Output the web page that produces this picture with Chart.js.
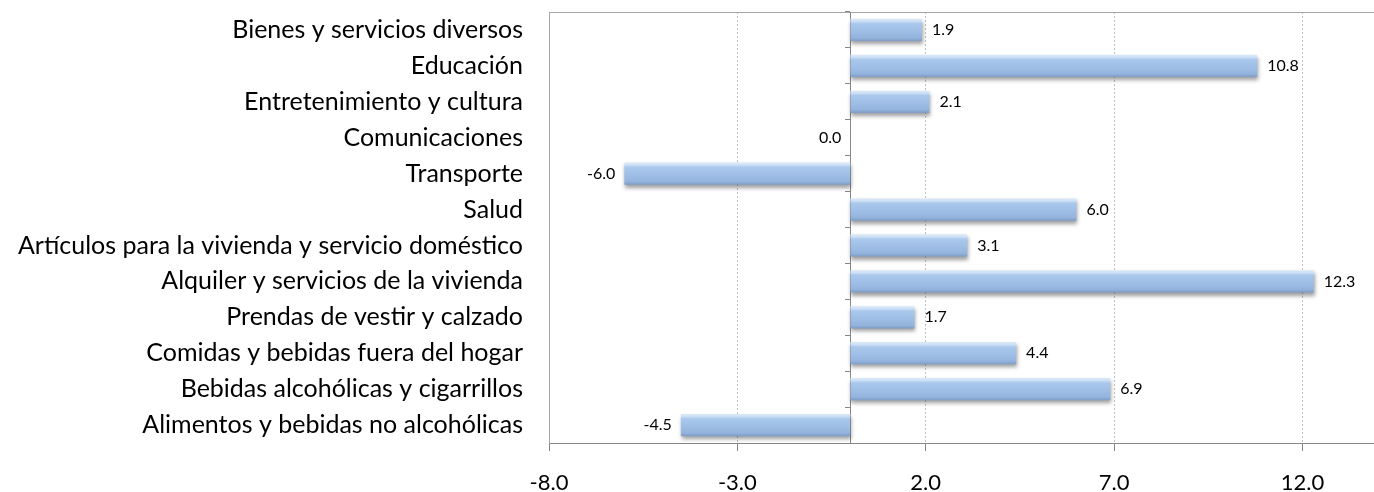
<!DOCTYPE html>
<html>
<head>
<meta charset="utf-8">
<script src="https://cdn.jsdelivr.net/npm/chart.js@4/dist/chart.umd.min.js"></script>
<style>
html,body{margin:0;padding:0;background:#fff;}
#wrap{width:1374px;height:492px;position:relative;}
</style>
</head>
<body>
<div id="wrap"><canvas id="c" width="1374" height="492"></canvas></div>
<script>
const categories = [
  "Bienes y servicios diversos",
  "Educación",
  "Entretenimiento y cultura",
  "Comunicaciones",
  "Transporte",
  "Salud",
  "Artículos para la vivienda y servicio doméstico",
  "Alquiler y servicios de la vivienda",
  "Prendas de vestir y calzado",
  "Comidas y bebidas fuera del hogar",
  "Bebidas alcohólicas y cigarrillos",
  "Alimentos y bebidas no alcohólicas"
];
const values = [1.9, 10.8, 2.1, 0.0, -6.0, 6.0, 3.1, 12.3, 1.7, 4.4, 6.9, -4.5];
const xTickValues = [-8, -3, 2, 7, 12];
const xMin = -8;
const xMax = 13.9;

const FONT = "Lato, 'Open Sans', sans-serif";
const BAR_PCT = 0.62;

function barGradient(ctx) {
  const chart = ctx.chart;
  const ys = chart.scales.y;
  if (!ys || !isFinite(ys.height) || ys.height <= 0) return '#9dbde5';
  const center = ys.getPixelForValue(ctx.dataIndex);
  const thick = (ys.height / chart.data.labels.length) * BAR_PCT;
  const top = center - thick / 2, bot = center + thick / 2;
  if (!isFinite(top) || !isFinite(bot)) return '#9dbde5';
  const g = chart.ctx.createLinearGradient(0, top, 0, bot);
  g.addColorStop(0, '#dbe9f8');
  g.addColorStop(0.1, '#cfe2f6');
  g.addColorStop(0.22, '#aac8ec');
  g.addColorStop(0.6, '#9dbde5');
  g.addColorStop(0.86, '#93b3dd');
  g.addColorStop(1, '#7c9cc6');
  return g;
}

const shadowPlugin = {
  id: 'barShadow',
  beforeDatasetsDraw(chart) {
    const c = chart.ctx;
    c.save();
    c.shadowColor = 'rgba(0,0,0,0.38)';
    c.shadowBlur = 4;
    c.shadowOffsetX = 1;
    c.shadowOffsetY = 3;
  },
  afterDatasetsDraw(chart) {
    chart.ctx.restore();
  }
};

const valueLabelPlugin = {
  id: 'valueLabels',
  afterDatasetsDraw(chart) {
    const c = chart.ctx;
    const meta = chart.getDatasetMeta(0);
    const data = chart.data.datasets[0].data;
    c.save();
    c.font = "16px " + FONT;
    c.fillStyle = '#000';
    c.textBaseline = 'middle';
    meta.data.forEach((bar, i) => {
      const v = data[i];
      const txt = v.toFixed(1);
      if (v > 0) {
        c.textAlign = 'left';
        c.fillText(txt, bar.x + 10, bar.y);
      } else {
        c.textAlign = 'right';
        c.fillText(txt, bar.x - 9, bar.y);
      }
    });
    c.restore();
  }
};

new Chart(document.getElementById('c'), {
  type: 'bar',
  data: {
    labels: categories,
    datasets: [{
      data: values,
      backgroundColor: barGradient,
      borderWidth: 0,
      barPercentage: BAR_PCT,
      categoryPercentage: 1.0
    }]
  },
  options: {
    indexAxis: 'y',
    responsive: false,
    animation: false,
    layout: { padding: 0 },
    plugins: { legend: { display: false }, tooltip: { enabled: false } },
    scales: {
      x: {
        type: 'linear',
        position: 'bottom',
        min: xMin,
        max: xMax,
        afterBuildTicks(scale) { scale.ticks = xTickValues.map(v => ({ value: v })); },
        afterFit(scale) { scale.height = 49; scale.paddingLeft = 0; scale.paddingRight = 0; },
        ticks: {
          color: '#000',
          font: { family: FONT, size: 22 },
          padding: 19,
          maxRotation: 0,
          callback: v => Number(v).toFixed(1)
        },
        grid: {
          color: ctx => (ctx.tick && ctx.tick.value === xMin) ? 'rgba(0,0,0,0)' : '#c0c0c0',
          tickColor: '#868686',
          tickBorderDash: [],
          tickLength: 8,
          lineWidth: 1
        },
        border: { display: true, color: '#868686', width: 1, dash: [2, 2] }
      },
      xTop: {
        type: 'linear',
        position: 'top',
        min: xMin,
        max: xMax,
        afterFit(scale) { scale.height = 12; scale.paddingLeft = 0; scale.paddingRight = 0; },
        ticks: { display: false },
        grid: { display: false, drawOnChartArea: false, drawTicks: false },
        border: { display: true, color: '#a6a6a6', width: 1 }
      },
      y: {
        type: 'category',
        position: 'left',
        afterFit(scale) { scale.width = 549; scale.paddingTop = 0; scale.paddingBottom = 0; },
        ticks: {
          color: '#000',
          font: { family: FONT, size: 25 },
          padding: 26
        },
        grid: { display: true, drawOnChartArea: false, drawTicks: false },
        border: { display: true, color: '#a6a6a6', width: 1 }
      },
      yZero: {
        type: 'category',
        position: { x: 0 },
        labels: categories,
        offset: true,
        afterFit(scale) { scale.paddingTop = 0; scale.paddingBottom = 0; },
        ticks: { display: false },
        grid: {
          display: true,
          drawOnChartArea: false,
          drawTicks: true,
          tickLength: 5,
          offset: true,
          color: '#868686',
          tickColor: '#868686'
        },
        border: { display: true, color: '#868686', width: 1 }
      }
    }
  },
  plugins: [shadowPlugin, valueLabelPlugin]
});
</script>
</body>
</html>
